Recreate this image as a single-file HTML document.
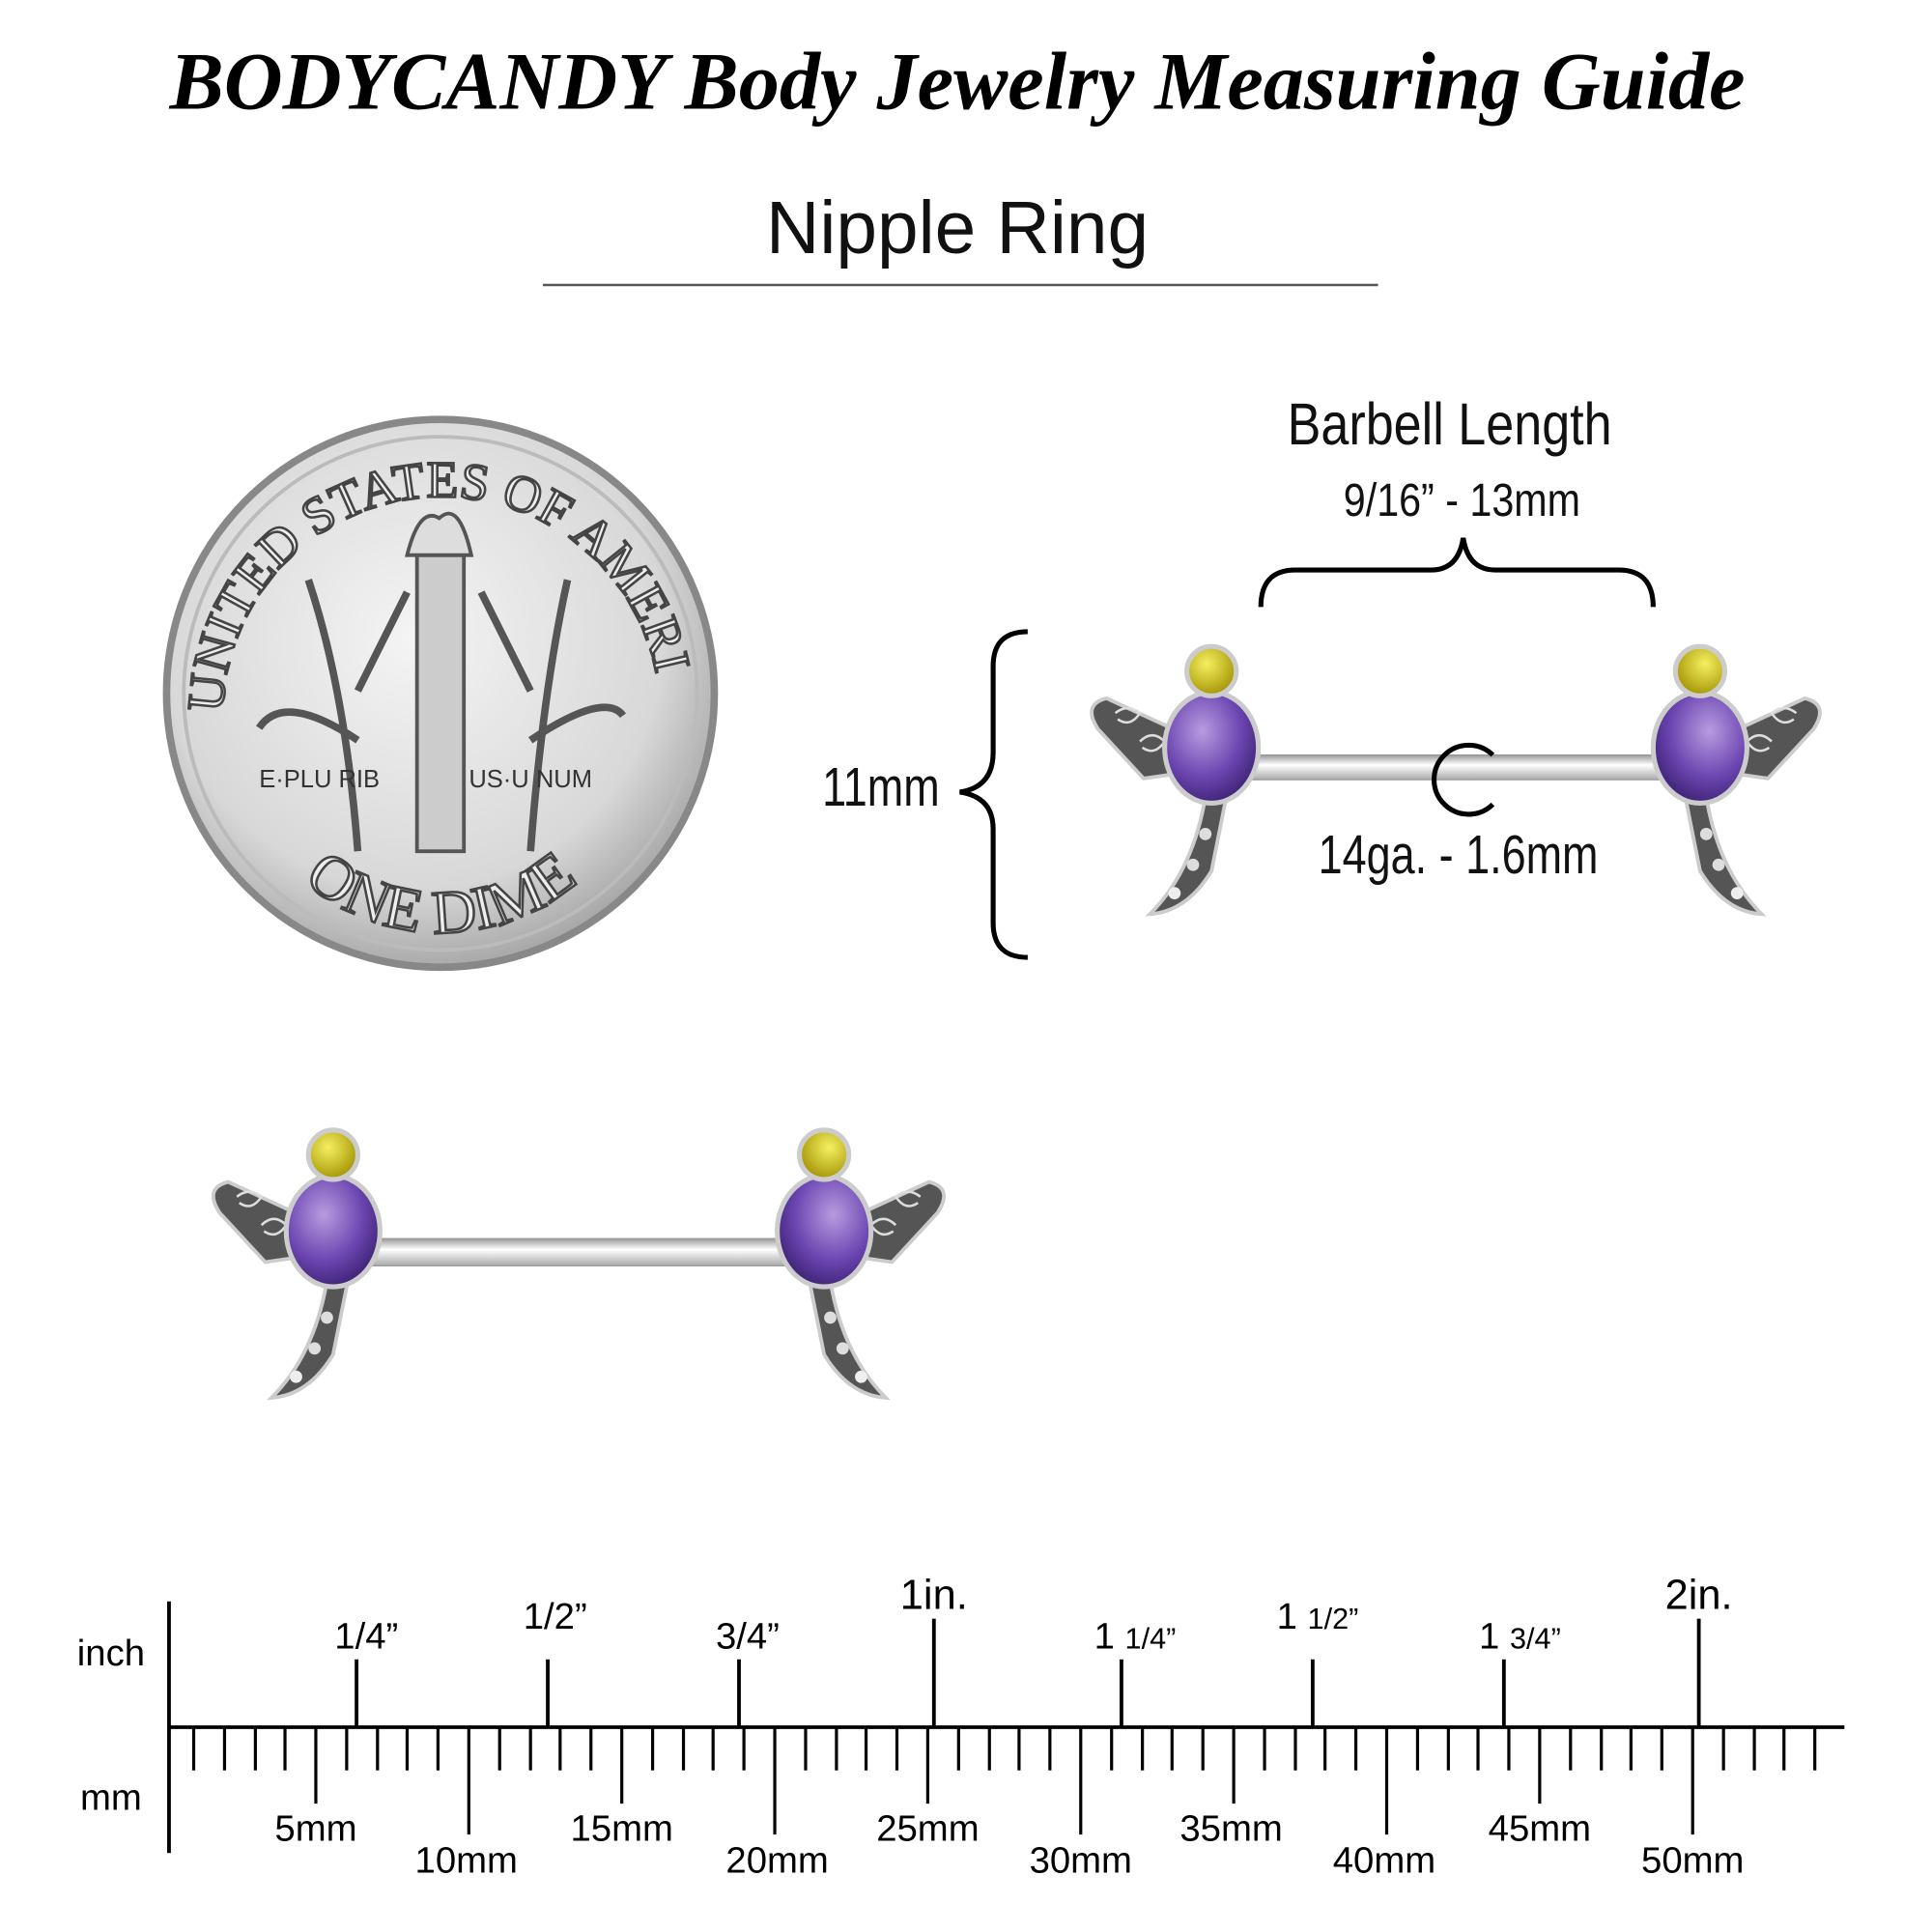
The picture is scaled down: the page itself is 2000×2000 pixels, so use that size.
<!DOCTYPE html>
<html><head><style>html,body{margin:0;padding:0;background:#fff}svg{display:block}</style></head>
<body>
<svg width="2000" height="2000" viewBox="0 0 1566 1566" xmlns="http://www.w3.org/2000/svg" font-family="Liberation Sans, sans-serif">
<defs>
<radialGradient id="coin" cx="45%" cy="40%" r="65%"><stop offset="0" stop-color="#f4f4f4"/><stop offset="0.7" stop-color="#d8d8d8"/><stop offset="1" stop-color="#9a9a9a"/></radialGradient>
<radialGradient id="pur" cx="40%" cy="35%" r="70%"><stop offset="0" stop-color="#b79be0"/><stop offset="0.6" stop-color="#6b45b0"/><stop offset="1" stop-color="#3a2070"/></radialGradient>
<radialGradient id="yel" cx="40%" cy="35%" r="70%"><stop offset="0" stop-color="#f5f060"/><stop offset="1" stop-color="#a09000"/></radialGradient>
<linearGradient id="bar" x1="0" y1="0" x2="0" y2="1"><stop offset="0" stop-color="#999"/><stop offset="0.4" stop-color="#fff"/><stop offset="1" stop-color="#aaa"/></linearGradient>
<path id="arcTop" d="M182,600 A176,176 0 1 1 534,560"/>
<path id="arcBot" d="M200,650 A170,170 0 0 0 515,650"/>
<g id="fly">
  <path d="M-20,-10 L-85,-40 Q-105,-35 -92,-15 L-55,25 L-20,20 Z" fill="#555" stroke="#ccc" stroke-width="3"/>
  <path d="M-78,-28 q10,-8 20,0 q-8,12 -18,5 M-58,-5 q10,-10 20,0 q-8,12 -18,5" stroke="#ddd" stroke-width="2" fill="none"/>
  <path d="M-5,40 Q-15,100 -50,135 Q-20,133 0,100 L12,40 Z" fill="#555" stroke="#ccc" stroke-width="3"/>
  <circle cx="-5" cy="70" r="5" fill="#ddd"/><circle cx="-15" cy="95" r="5" fill="#ddd"/><circle cx="-30" cy="118" r="5" fill="#eee"/>
  <ellipse cx="0" cy="0" rx="38" ry="45" fill="url(#pur)" stroke="#ccc" stroke-width="4"/>
  <circle cx="0" cy="-62" r="20" fill="url(#yel)" stroke="#ccc" stroke-width="4"/>
</g>
</defs>
<text x="776" y="88" text-anchor="middle" font-family="Liberation Serif, serif" font-weight="bold" font-style="italic" font-size="66" fill="#000">BODYCANDY Body Jewelry Measuring Guide</text>
<text x="776" y="205" text-anchor="middle" font-size="60" fill="#111">Nipple Ring</text>
<line x1="440" y1="231" x2="1117" y2="231" stroke="#555" stroke-width="2"/>
<!-- coin -->
<circle cx="357" cy="562" r="222" fill="url(#coin)" stroke="#888" stroke-width="6"/>
<circle cx="357" cy="562" r="208" fill="none" stroke="#bbb" stroke-width="3"/>
<text font-size="42" font-family="Liberation Serif, serif" fill="#eee" stroke="#444" stroke-width="2"><textPath href="#arcTop" startOffset="4%">UNITED STATES OF AMERICA</textPath></text>
<text font-size="50" font-family="Liberation Serif, serif" fill="#eee" stroke="#444" stroke-width="2"><textPath href="#arcBot" startOffset="50%" text-anchor="middle">ONE DIME</textPath></text>
<rect x="338" y="450" width="38" height="240" fill="#ccc" stroke="#555" stroke-width="3"/>
<path d="M330,450 Q340,410 356,420 Q372,405 382,450 Z" fill="#ddd" stroke="#555" stroke-width="3"/>
<path d="M290,690 Q280,560 250,470 M290,600 Q230,560 210,590 M290,560 Q320,500 330,480" stroke="#555" stroke-width="6" fill="none"/>
<path d="M430,690 Q440,560 460,470 M430,600 Q490,560 505,580 M430,560 Q400,500 390,480" stroke="#555" stroke-width="6" fill="none"/>
<text x="210" y="638" font-size="20" fill="#333">E·PLU RIB</text><text x="380" y="638" font-size="20" fill="#333">US·U NUM</text>
<!-- top right piece -->
<rect x="1000" y="612" width="350" height="20" fill="url(#bar)" stroke="#999"/>
<use href="#fly" x="982" y="606"/>
<use href="#fly" x="1378" y="606" transform="translate(2756,0) scale(-1,1)"/>
<text x="1175" y="360" text-anchor="middle" font-size="48" fill="#111" transform="translate(1175,0) scale(0.85,1) translate(-1175,0)">Barbell Length</text>
<text x="1185" y="418" text-anchor="middle" font-size="38" fill="#111" transform="translate(1185,0) scale(0.85,1) translate(-1185,0)">9/16” - 13mm</text>
<path d="M1022,492 Q1022,462 1050,462 L1160,462 Q1182,462 1186,436 Q1190,462 1212,462 L1312,462 Q1340,462 1340,492" stroke="#000" stroke-width="4" fill="none"/>
<path d="M833,512 Q805,512 805,540 L805,610 Q805,638 778,642 Q805,646 805,672 L805,748 Q805,776 833,776" stroke="#000" stroke-width="4" fill="none"/>
<text x="714" y="653" text-anchor="middle" font-size="44" fill="#111" transform="translate(714,0) scale(0.8,1) translate(-714,0)">11mm</text>
<path d="M1210,612 A28,28 0 1 0 1210,652" stroke="#000" stroke-width="4" fill="none"/>
<text x="1182" y="708" text-anchor="middle" font-size="44" fill="#111" transform="translate(1182,0) scale(0.8,1) translate(-1182,0)">14ga. - 1.6mm</text>
<!-- lower piece -->
<rect x="290" y="1004" width="350" height="22" fill="url(#bar)" stroke="#999"/>
<use href="#fly" x="270" y="998"/>
<use href="#fly" x="668" y="998" transform="translate(1336,0) scale(-1,1)"/>
<!-- ruler -->
<g stroke="#000" stroke-width="3">
<line x1="137" y1="1298" x2="137" y2="1502"/>
<line x1="137" y1="1400" x2="1495" y2="1400"/>
<line x1="289" y1="1345" x2="289" y2="1400"/><line x1="444" y1="1345" x2="444" y2="1400"/><line x1="599" y1="1345" x2="599" y2="1400"/>
<line x1="757" y1="1312" x2="757" y2="1400"/><line x1="909" y1="1345" x2="909" y2="1400"/><line x1="1064" y1="1345" x2="1064" y2="1400"/><line x1="1219" y1="1345" x2="1219" y2="1400"/><line x1="1377" y1="1312" x2="1377" y2="1400"/>
</g>
<g stroke="#000" stroke-width="2.5">
<line x1="157" y1="1400" x2="157" y2="1435"/><line x1="182" y1="1400" x2="182" y2="1435"/><line x1="207" y1="1400" x2="207" y2="1435"/><line x1="231" y1="1400" x2="231" y2="1435"/><line x1="256" y1="1400" x2="256" y2="1462"/>
<line x1="281" y1="1400" x2="281" y2="1435"/><line x1="306" y1="1400" x2="306" y2="1435"/><line x1="330" y1="1400" x2="330" y2="1435"/><line x1="355" y1="1400" x2="355" y2="1435"/><line x1="380" y1="1400" x2="380" y2="1487"/>
<line x1="405" y1="1400" x2="405" y2="1435"/><line x1="430" y1="1400" x2="430" y2="1435"/><line x1="454" y1="1400" x2="454" y2="1435"/><line x1="479" y1="1400" x2="479" y2="1435"/><line x1="504" y1="1400" x2="504" y2="1462"/>
<line x1="529" y1="1400" x2="529" y2="1435"/><line x1="554" y1="1400" x2="554" y2="1435"/><line x1="578" y1="1400" x2="578" y2="1435"/><line x1="603" y1="1400" x2="603" y2="1435"/><line x1="628" y1="1400" x2="628" y2="1487"/>
<line x1="653" y1="1400" x2="653" y2="1435"/><line x1="678" y1="1400" x2="678" y2="1435"/><line x1="702" y1="1400" x2="702" y2="1435"/><line x1="727" y1="1400" x2="727" y2="1435"/><line x1="752" y1="1400" x2="752" y2="1462"/>
<line x1="777" y1="1400" x2="777" y2="1435"/><line x1="802" y1="1400" x2="802" y2="1435"/><line x1="826" y1="1400" x2="826" y2="1435"/><line x1="851" y1="1400" x2="851" y2="1435"/><line x1="876" y1="1400" x2="876" y2="1487"/>
<line x1="901" y1="1400" x2="901" y2="1435"/><line x1="926" y1="1400" x2="926" y2="1435"/><line x1="950" y1="1400" x2="950" y2="1435"/><line x1="975" y1="1400" x2="975" y2="1435"/><line x1="1000" y1="1400" x2="1000" y2="1462"/>
<line x1="1025" y1="1400" x2="1025" y2="1435"/><line x1="1050" y1="1400" x2="1050" y2="1435"/><line x1="1074" y1="1400" x2="1074" y2="1435"/><line x1="1099" y1="1400" x2="1099" y2="1435"/><line x1="1124" y1="1400" x2="1124" y2="1487"/>
<line x1="1149" y1="1400" x2="1149" y2="1435"/><line x1="1174" y1="1400" x2="1174" y2="1435"/><line x1="1198" y1="1400" x2="1198" y2="1435"/><line x1="1223" y1="1400" x2="1223" y2="1435"/><line x1="1248" y1="1400" x2="1248" y2="1462"/>
<line x1="1273" y1="1400" x2="1273" y2="1435"/><line x1="1298" y1="1400" x2="1298" y2="1435"/><line x1="1322" y1="1400" x2="1322" y2="1435"/><line x1="1347" y1="1400" x2="1347" y2="1435"/><line x1="1372" y1="1400" x2="1372" y2="1487"/>
<line x1="1397" y1="1400" x2="1397" y2="1435"/><line x1="1422" y1="1400" x2="1422" y2="1435"/><line x1="1446" y1="1400" x2="1446" y2="1435"/><line x1="1471" y1="1400" x2="1471" y2="1435"/>
</g>
<g font-size="30" fill="#000" text-anchor="middle">
<text x="90" y="1350">inch</text><text x="90" y="1467">mm</text>
<text x="297" y="1336">1/4”</text><text x="450" y="1320">1/2”</text><text x="606" y="1336">3/4”</text>
<text x="757" y="1304" font-size="34">1in.</text><text x="1377" y="1304" font-size="34">2in.</text>
<text x="920" y="1336">1 <tspan font-size="24">1/4”</tspan></text><text x="1068" y="1320">1 <tspan font-size="24">1/2”</tspan></text><text x="1232" y="1336">1 <tspan font-size="24">3/4”</tspan></text>
<text x="256" y="1492">5mm</text><text x="378" y="1518">10mm</text><text x="504" y="1492">15mm</text><text x="630" y="1518">20mm</text><text x="752" y="1492">25mm</text><text x="876" y="1518">30mm</text><text x="998" y="1492">35mm</text><text x="1122" y="1518">40mm</text><text x="1248" y="1492">45mm</text><text x="1372" y="1518">50mm</text>
</g>
</svg>
</body></html>
